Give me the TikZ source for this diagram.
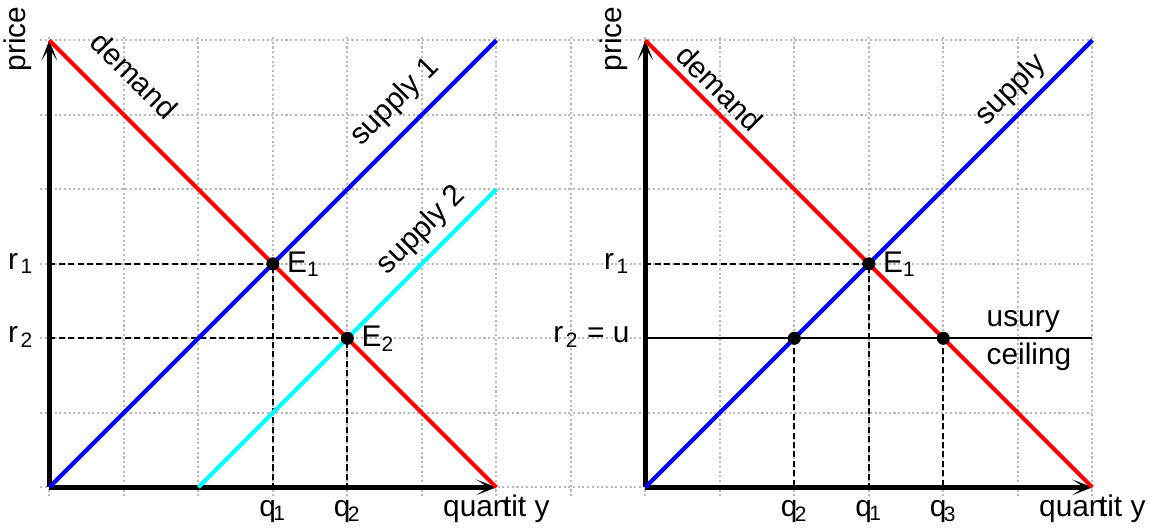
\documentclass[tikz,border=0pt]{standalone}
\usepackage{fontspec}
\setmainfont{Liberation Sans}
\usepackage{tikz}
\usetikzlibrary{arrows.meta,positioning}
\definecolor{shiftcyan}{RGB}{0,255,255}
\definecolor{pureblue}{RGB}{0,0,255}
\definecolor{purered}{RGB}{255,0,0}

\begin{document}
\begin{tikzpicture}[>={Stealth[length=2.7mm,width=2.1mm,inset=1.6mm]},
  every node/.style={font=\fontsize{11.4}{14}\selectfont,inner sep=1pt},
  gridline/.style={gray!55,line width=0.8pt,dash pattern=on 0.8pt off 1pt},
  axis/.style={line width=1.9pt,->},
  demandline/.style={purered,line width=1.6pt},
  supplyline/.style={pureblue,line width=1.6pt},
  guide/.style={line width=0.75pt,dash pattern=on 2.3pt off 1.3pt},
  ceilingline/.style={line width=0.8pt},
  dot/.style={circle,fill=black,inner sep=0pt,minimum size=1.75mm}]
\useasboundingbox (-0.662,-0.573) rectangle (14.868,6.541);
% dotted grid under both panels
\draw[gridline] (-0.12,-0.12) grid (14,6.06);

% left panel: supply shifts right
\coordinate (o1) at (0,0);
\coordinate (top1) at (0,6);
\coordinate (end1) at (6,0);
\coordinate (sup1) at (6,6);
\coordinate (sup2a) at (2,0);
\coordinate (sup2b) at (6,4);
\coordinate (E1) at (3,3);
\coordinate (E2) at (4,2);
\coordinate (r1) at (0,3);
\coordinate (r2) at (0,2);
\coordinate (q1) at (3,0);
\coordinate (q2) at (4,0);
\draw[axis] (o1) -- (top1);
\draw[axis] (o1) -- (end1);
\draw[guide] (r1) -- (E1) -- (q1);
\draw[guide] (r2) -- (E2) -- (q2);
\draw[demandline] (top1) -- (end1);
\draw[supplyline] (o1) -- (sup1);
\draw[shiftcyan,line width=1.6pt] (sup2a) -- (sup2b);
\node[dot] (e1dot) at (E1) {};
\node[dot] (e2dot) at (E2) {};
\node[rotate=90,anchor=south] (price1) at (-0.19,6.02) {price};
\node[rotate=-45] (dem1) at (1.14,5.53) {demand};
\node[rotate=45] (supl1) at (4.64,5.17) {supply 1};
\node[rotate=45] (supl2) at (5.0,3.45) {supply 2};
\node[below right=0.11cm and 0.15cm of E1,anchor=base west] (e1lab) {E\textsubscript{1}};
\node[below right=0.11cm and 0.15cm of E2,anchor=base west] (e2lab) {E\textsubscript{2}};
\node[left=0.17cm of r1,yshift=-0.07cm,anchor=base east] (r1lab) {r\kern1pt\textsubscript{1}};
\node[left=0.17cm of r2,yshift=-0.06cm,anchor=base east] (r2lab) {r\kern1pt\textsubscript{2}};
\node[below=0.39cm of q1,anchor=base] (q1lab) {q\kern-1pt\textsubscript{1}};
\node[below=0.39cm of q2,anchor=base] (q2lab) {q\kern-1pt\textsubscript{2}};
\node[below=0.39cm of end1,anchor=base] (qty1) {quan\kern-2.5pt tit y};

% right panel: usury ceiling
\begin{scope}[xshift=8cm]
\coordinate (o2) at (0,0);
\coordinate (top2) at (0,6);
\coordinate (end2) at (6,0);
\coordinate (sup3) at (6,6);
\coordinate (F1) at (3,3);
\coordinate (F2) at (2,2);
\coordinate (F3) at (4,2);
\coordinate (u0) at (0,2);
\coordinate (u1) at (6,2);
\coordinate (s1) at (0,3);
\coordinate (p1) at (3,0);
\coordinate (p2) at (2,0);
\coordinate (p3) at (4,0);
\draw[axis] (o2) -- (top2);
\draw[axis] (o2) -- (end2);
\draw[guide] (s1) -- (F1) -- (p1);
\draw[guide] (F2) -- (p2);
\draw[guide] (F3) -- (p3);
\draw[ceilingline] (u0) -- (u1);
\draw[demandline] (top2) -- (end2);
\draw[supplyline] (o2) -- (sup3);
\node[dot] (f1dot) at (F1) {};
\node[dot] (f2dot) at (F2) {};
\node[dot] (f3dot) at (F3) {};
\node[rotate=90,anchor=south] (price2) at (-0.19,6.02) {price};
\node[rotate=-45] (dem2) at (1.0,5.36) {demand};
\node[rotate=45] (supl3) at (4.91,5.33) {supply};
\node[below right=0.11cm and 0.15cm of F1,anchor=base west] (f1lab) {E\textsubscript{1}};
\node[left=0.17cm of s1,yshift=-0.07cm,anchor=base east] (s1lab) {r\kern1pt\textsubscript{1}};
\node[left=0.17cm of u0,yshift=-0.06cm,anchor=base east] (u0lab) {r\kern1pt\textsubscript{2} = u};
\node[anchor=base west] (usury) at (4.54,2.165) {usury};
\node[anchor=base west] (ceil) at (4.54,1.65) {ceiling};
\node[below=0.39cm of p2,anchor=base] (p2lab) {q\kern-1pt\textsubscript{2}};
\node[below=0.39cm of p1,anchor=base] (p1lab) {q\kern-1pt\textsubscript{1}};
\node[below=0.39cm of p3,anchor=base] (p3lab) {q\kern-1pt\textsubscript{3}};
\node[below=0.39cm of end2,anchor=base] (qty2) {quan\kern-2.5pt tit y};
\end{scope}
\end{tikzpicture}
\end{document}
